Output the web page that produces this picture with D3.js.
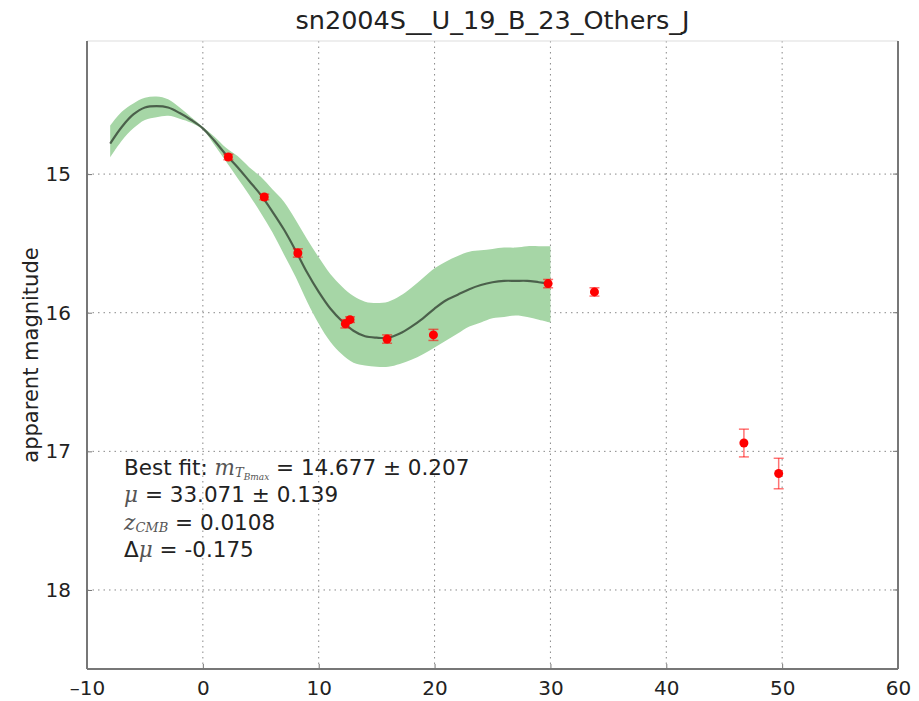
<!DOCTYPE html>
<html>
<head>
<meta charset="utf-8">
<script src="https://cdn.jsdelivr.net/npm/d3@7"></script>
<style>
  html, body { margin: 0; padding: 0; background: #fff; }
  svg { display: block; }
  text { font-family: "DejaVu Sans", sans-serif; fill: #222; }
</style>
</head>
<body>
<script>
// Light curve of sn2004S in J band: fitted template, its 1-sigma band, and photometry.
const title = "sn2004S__U_19_B_23_Others_J";
const xTicks = [-10, 0, 10, 20, 30, 40, 50, 60];
const yTicks = [15, 16, 17, 18];

// Template fit (phase in days, apparent magnitude)
const fitPhase = [-8, -7, -6, -5, -4, -3, -2, -1, 0, 1, 2, 3, 4, 5, 6, 7, 8, 9, 10, 11, 12, 13, 14, 15, 16, 17, 18, 19, 20, 21, 22, 23, 24, 25, 26, 27, 28, 29, 30];
const fitMag   = [14.78, 14.66, 14.57, 14.52, 14.51, 14.52, 14.56, 14.61, 14.67, 14.76, 14.86, 14.95, 15.05, 15.15, 15.27, 15.40, 15.55, 15.71, 15.85, 15.97, 16.06, 16.13, 16.17, 16.18, 16.18, 16.15, 16.10, 16.04, 15.97, 15.91, 15.87, 15.83, 15.80, 15.78, 15.77, 15.77, 15.77, 15.78, 15.79];
// Uncertainty band edges (bright edge, faint edge)
const bandBright = [14.65, 14.55, 14.49, 14.45, 14.44, 14.46, 14.52, 14.59, 14.66, 14.73, 14.81, 14.87, 14.95, 15.02, 15.11, 15.20, 15.33, 15.47, 15.60, 15.72, 15.81, 15.88, 15.92, 15.93, 15.92, 15.88, 15.82, 15.75, 15.68, 15.63, 15.59, 15.56, 15.55, 15.54, 15.53, 15.53, 15.52, 15.52, 15.52];
const bandFaint  = [14.88, 14.76, 14.67, 14.61, 14.59, 14.58, 14.60, 14.63, 14.68, 14.79, 14.91, 15.03, 15.15, 15.28, 15.42, 15.58, 15.74, 15.92, 16.08, 16.21, 16.30, 16.36, 16.38, 16.39, 16.39, 16.37, 16.34, 16.30, 16.25, 16.20, 16.15, 16.10, 16.07, 16.04, 16.03, 16.02, 16.03, 16.05, 16.07];

// Observed photometry
const obsPhase = [2.2, 5.3, 8.2, 12.3, 12.7, 15.9, 19.9, 29.8, 33.8, 46.7, 49.7];
const obsMag   = [14.877, 15.165, 15.569, 16.08, 16.05, 16.19, 16.16, 15.79, 15.85, 16.94, 17.16];
const obsErr   = [0.02, 0.02, 0.03, 0.03, 0.02, 0.03, 0.04, 0.03, 0.03, 0.10, 0.11];

// Fit summary text
const fitLines = [
  [{t: "Best fit: "}, {t: "m", m: true}, {t: "T", m: true, sub: 1}, {t: "Bmax", m: true, sub: 2}, {t: " = 14.677 \u00b1 0.207"}],
  [{t: "\u03bc", m: true}, {t: " = 33.071 \u00b1 0.139"}],
  [{t: "z", m: true}, {t: "CMB", m: true, sub: 1}, {t: " = 0.0108"}],
  [{t: "\u0394"}, {t: "\u03bc", m: true}, {t: " = -0.175"}]
];

const W = 919, H = 701;
const margin = {left: 87, right: 21, top: 41, bottom: 32};

const svg = d3.select("body").append("svg").attr("width", W).attr("height", H);
svg.append("rect").attr("width", W).attr("height", H).attr("fill", "#fff");

const x = d3.scaleLinear().domain([-10, 60]).range([margin.left, W - margin.right]);
const y = d3.scaleLinear().domain([14.04, 18.57]).range([margin.top, H - margin.bottom]);

const g = svg.append("g");

// Dotted grid
g.append("g").selectAll("line").data(xTicks.slice(1, -1)).join("line")
  .attr("x1", d => x(d)).attr("x2", d => x(d))
  .attr("y1", y.range()[0]).attr("y2", y.range()[1])
  .attr("stroke", "#888").attr("stroke-width", 1).attr("stroke-dasharray", "1.5,4");
g.append("g").selectAll("line").data(yTicks).join("line")
  .attr("y1", d => y(d)).attr("y2", d => y(d))
  .attr("x1", x.range()[0]).attr("x2", x.range()[1])
  .attr("stroke", "#888").attr("stroke-width", 1).attr("stroke-dasharray", "1.5,4");

// Uncertainty band
const bandData = fitPhase.map((p, i) => ({p, lo: bandBright[i], hi: bandFaint[i]}));
g.append("path").datum(bandData)
  .attr("fill", "rgb(166,214,166)")
  .attr("d", d3.area().curve(d3.curveCatmullRom.alpha(0.5))
    .x(d => x(d.p)).y0(d => y(d.lo)).y1(d => y(d.hi)));

// Fitted template
const fitData = fitPhase.map((p, i) => ({p, m: fitMag[i]}));
g.append("path").datum(fitData)
  .attr("fill", "none").attr("stroke", "#000").attr("stroke-opacity", 0.55).attr("stroke-width", 2.2)
  .attr("d", d3.line().curve(d3.curveCatmullRom.alpha(0.5)).x(d => x(d.p)).y(d => y(d.m)));

// Photometry with error bars
const obs = obsPhase.map((p, i) => ({p, m: obsMag[i], e: obsErr[i]}));
const eb = g.append("g").attr("stroke", "red").attr("stroke-opacity", 0.55).attr("stroke-width", 1.5);
eb.selectAll(".v").data(obs).join("line")
  .attr("x1", d => x(d.p)).attr("x2", d => x(d.p))
  .attr("y1", d => y(d.m - d.e)).attr("y2", d => y(d.m + d.e));
eb.selectAll(".c1").data(obs).join("line")
  .attr("x1", d => x(d.p) - 5).attr("x2", d => x(d.p) + 5)
  .attr("y1", d => y(d.m - d.e)).attr("y2", d => y(d.m - d.e));
eb.selectAll(".c2").data(obs).join("line")
  .attr("x1", d => x(d.p) - 5).attr("x2", d => x(d.p) + 5)
  .attr("y1", d => y(d.m + d.e)).attr("y2", d => y(d.m + d.e));
g.append("g").selectAll("circle").data(obs).join("circle")
  .attr("cx", d => x(d.p)).attr("cy", d => y(d.m)).attr("r", 4.5).attr("fill", "red");

// Spines
const [x0, x1] = x.range(), [y0, y1] = y.range();
svg.append("line").attr("x1", x0).attr("x2", x1).attr("y1", y0).attr("y2", y0).attr("stroke", "#ddd").attr("stroke-width", 1);
svg.append("line").attr("x1", x0).attr("x2", x1).attr("y1", y1).attr("y2", y1).attr("stroke", "#777").attr("stroke-width", 2);
svg.append("line").attr("x1", x0).attr("x2", x0).attr("y1", y0).attr("y2", y1).attr("stroke", "#777").attr("stroke-width", 2);
svg.append("line").attr("x1", x1).attr("x2", x1).attr("y1", y0).attr("y2", y1).attr("stroke", "#777").attr("stroke-width", 2);

// Axes with inward ticks
const xAxis = svg.append("g").attr("transform", `translate(0,${y1})`)
  .call(d3.axisBottom(x).tickValues(xTicks).tickFormat(d => d < 0 ? "\u2013" + Math.abs(d) : d).tickSizeInner(-5).tickSizeOuter(0).tickPadding(12));
xAxis.select(".domain").remove();
xAxis.selectAll(".tick line").attr("stroke", "#777");
xAxis.selectAll("text").attr("font-size", 20).attr("fill", "#333").attr("font-family", "DejaVu Sans");

const yAxis = svg.append("g").attr("transform", `translate(${x0},0)`)
  .call(d3.axisLeft(y).tickValues(yTicks).tickFormat(d3.format("d")).tickSizeInner(-5).tickSizeOuter(0).tickPadding(16));
yAxis.select(".domain").remove();
yAxis.selectAll(".tick line").attr("stroke", "#777");
yAxis.selectAll("text").attr("font-size", 20).attr("fill", "#333").attr("font-family", "DejaVu Sans");

// Right-side ticks
svg.append("g").selectAll("line").data(yTicks).join("line")
  .attr("x1", x1).attr("x2", x1 - 5).attr("y1", d => y(d)).attr("y2", d => y(d)).attr("stroke", "#777");

// Title and axis label
svg.append("text").attr("x", (x0 + x1) / 2).attr("y", 29).attr("text-anchor", "middle")
  .attr("font-size", 25.5).attr("fill", "#222").text(title);
svg.append("text").attr("transform", `translate(38,${(y0 + y1) / 2}) rotate(-90)`)
  .attr("text-anchor", "middle").attr("font-size", 21).attr("fill", "#222").text("apparent magnitude");

// Fit summary
const tx = x(-6.8);
fitLines.forEach((line, i) => {
  const t = svg.append("text").attr("x", tx).attr("y", y(17.17) + i * 27.5).attr("font-size", 21.5).attr("fill", "#333");
  let level = 0;
  line.forEach(part => {
    const s = t.append("tspan").text(part.t);
    const lv = part.sub || 0;
    if (part.m) s.attr("font-family", "DejaVu Serif").attr("font-style", "italic").attr("fill", "#555");
    if (lv > 0) s.attr("font-size", lv === 1 ? 13 : 9);
    if (lv !== level) s.attr("dy", (lv - level) * 2.5);
    level = lv;
  });
});
</script>
</body>
</html>
